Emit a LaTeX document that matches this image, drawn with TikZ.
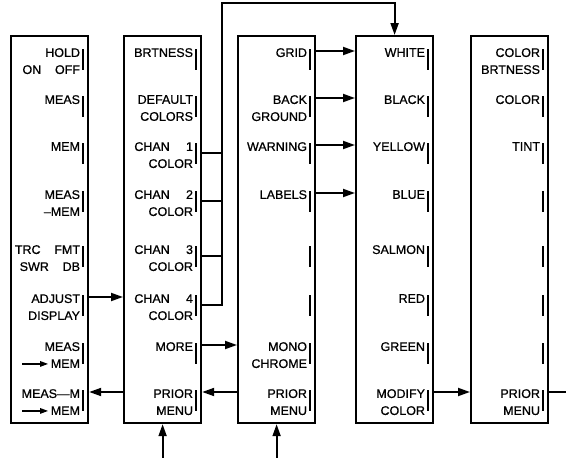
\documentclass[tikz,border=0pt]{standalone}
\usepackage{fontspec}
\usetikzlibrary{arrows.meta,calc}
\newfontfamily\keyfamily{Liberation Sans}[FakeBold=0.8]
\newcommand{\keyarrow}{\tikz[baseline=-4pt]\draw[line width=1.3pt,-{Triangle[length=8pt,width=5.5pt]}] (0pt,0pt) -- (26pt,0pt);}
\tikzset{
  menubox/.style={draw, line width=2.2pt, minimum width=77pt, minimum height=387pt,
                  inner sep=0pt, anchor=north west},
  keylabel/.style={anchor=north east, align=right, inner sep=0pt,
                   font=\keyfamily\fontsize{12.5}{17}\selectfont},
  keybar/.style={draw=none, fill=black, minimum width=1.7pt, minimum height=21pt, inner sep=0pt},
  link/.style={line width=1.9pt},
  linkarrow/.style={link, -{Triangle[length=12pt,width=8pt]}},
}

\begin{document}
\begin{tikzpicture}[x=1pt,y=-1pt]
  \useasboundingbox (0,0) rectangle (566,458);
  % softkey rows
  \foreach \k/\y in {1/51,2/98,3/145,4/193,5/248,6/297,7/345,8/392}
    \coordinate (key\k) at (0,\y);
  \coordinate (floor) at (0,458);
  \coordinate (bustop) at (222,3);
  \coordinate (exit) at (566,0);

  % menu columns
  \node[menubox] (dispmenu) at (10,35) {};
  \node[menubox] (colormenu) at (123,35) {};
  \node[menubox] (adjmenu) at (237,35) {};
  \node[menubox] (palette) at (355,35) {};
  \node[menubox] (tintmenu) at (470,35) {};

  % softkey bars
  \foreach \m in {dispmenu,colormenu,adjmenu,palette,tintmenu}
    \foreach \k in {1,...,8}
      \node[keybar] (\m-bar\k) at ($(\m.east |- key\k)+(-6,8)$) {};

  % softkey labels
  \foreach \k/\t in {1/{HOLD\\ON\hspace{1.1em}OFF},2/MEAS,3/MEM,4/{MEAS\\–MEM},
                     5/{TRC\hspace{1.1em}FMT\\SWR\hspace{1.1em}DB},6/{ADJUST\\DISPLAY},
                     7/{MEAS\\\keyarrow\,MEM},8/{MEAS—M\\\keyarrow\,MEM}}
    \node[keylabel] (dispmenu-\k) at ($(dispmenu.east |- key\k)+(-9,-3)$) {\t};
  \foreach \k/\t in {1/BRTNESS,2/{DEFAULT\\COLORS},3/{CHAN\hspace{1.3em}1\\COLOR},
                     4/{CHAN\hspace{1.3em}2\\COLOR},5/{CHAN\hspace{1.3em}3\\COLOR},
                     6/{CHAN\hspace{1.3em}4\\COLOR},7/MORE,8/{PRIOR\\MENU}}
    \node[keylabel] (colormenu-\k) at ($(colormenu.east |- key\k)+(-9,-3)$) {\t};
  \foreach \k/\t in {1/GRID,2/{BACK\\GROUND},3/WARNING,4/LABELS,7/{MONO\\CHROME},8/{PRIOR\\MENU}}
    \node[keylabel] (adjmenu-\k) at ($(adjmenu.east |- key\k)+(-9,-3)$) {\t};
  \foreach \k/\t in {1/WHITE,2/BLACK,3/YELLOW,4/BLUE,5/SALMON,6/RED,7/GREEN,8/{MODIFY\\COLOR}}
    \node[keylabel] (palette-\k) at ($(palette.east |- key\k)+(-9,-3)$) {\t};
  \foreach \k/\t in {1/{COLOR\\BRTNESS},2/COLOR,3/TINT,8/{PRIOR\\MENU}}
    \node[keylabel] (tintmenu-\k) at ($(tintmenu.east |- key\k)+(-9,-3)$) {\t};

  % menu links
  \draw[linkarrow] (dispmenu.east |- key6) -- (colormenu.west |- key6);
  \draw[linkarrow] (colormenu.west |- key8) -- (dispmenu.east |- key8);
  \foreach \k in {3,4,5}
    \draw[link] (colormenu.east |- colormenu-bar\k) -- (bustop |- colormenu-bar\k);
  \draw[linkarrow] (colormenu.east |- colormenu-bar6) -| (bustop) -| (palette.north);
  \draw[linkarrow] (colormenu.east |- key7) -- (adjmenu.west |- key7);
  \draw[linkarrow] (adjmenu.west |- key8) -- (colormenu.east |- key8);
  \foreach \k in {1,...,4}
    \draw[linkarrow] (adjmenu.east |- key\k) -- (palette.west |- key\k);
  \draw[linkarrow] (palette.east |- key8) -- (tintmenu.west |- key8);
  \draw[link] (tintmenu.east |- key8) -- (exit |- key8);
  \draw[linkarrow] (colormenu.south |- floor) -- (colormenu.south);
  \draw[linkarrow] (adjmenu.south |- floor) -- (adjmenu.south);
\end{tikzpicture}
\end{document}
